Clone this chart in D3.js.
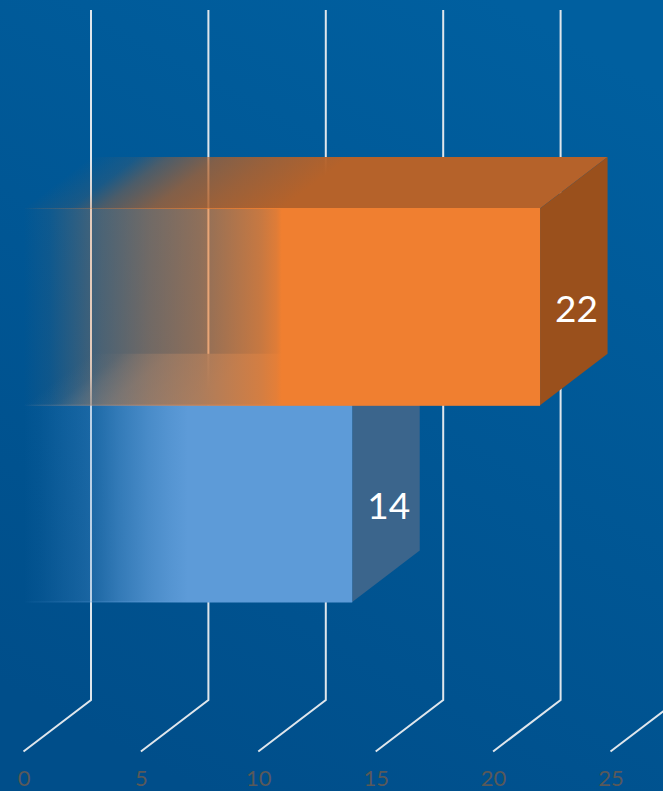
<!DOCTYPE html>
<html>
<head>
<meta charset="utf-8">
<script src="https://cdn.jsdelivr.net/npm/d3@7"></script>
<style>
    html, body { margin: 0; padding: 0; background: #00528f; overflow: hidden; }
    svg { display: block; }
    .tick text { font-family: Lato, sans-serif; font-size: 22px; fill: #595959; }
    .valueLabel { font-family: Lato, sans-serif; font-size: 37px; fill: #ffffff; text-anchor: middle; }
</style>
</head>
<body>
<svg id="chart" width="663" height="791"></svg>
<script>
// values
const seriesNames = ["Series 2", "Series 1"];
const seriesValues = [22, 14];
const axisTicks = [0, 5, 10, 15, 20, 25];

const width = 663, height = 791;
const svg = d3.select("#chart");
const defs = svg.append("defs");

// the 3d box offset, floor to back wall
const depthX = 67.5, depthY = 51.5;

const x = d3.scaleLinear().domain([0, 25]).range([23.5, 610.5]);
const y = d3.scaleBand().domain(seriesNames).range([208.5, 602]);

// Background
const bg = defs.append("linearGradient")
    .attr("id", "bgFill")
    .attr("x1", 0.75).attr("y1", 0).attr("x2", 0.3).attr("y2", 1);
bg.append("stop").attr("offset", 0).attr("stop-color", "#005f9f");
bg.append("stop").attr("offset", 1).attr("stop-color", "#004e8a");
svg.append("rect").attr("width", width).attr("height", height).attr("fill", "url(#bgFill)");

// Grid lines: along the floor then up the back wall
const floorY = 751.5, wallTop = 10;
svg.append("g").selectAll("path")
    .data(axisTicks)
    .enter()
    .append("path")
    .attr("d", d => `M${x(d)},${floorY}L${x(d) + depthX},${floorY - depthY}L${x(d) + depthX},${wallTop}`)
    .attr("fill", "none")
    .attr("stroke", "#dfe6ec")
    .attr("stroke-width", 2);

// Axis labels
svg.append("g")
    .attr("transform", "translate(0,766)")
    .call(d3.axisBottom(x).tickValues(axisTicks).tickSize(0).tickPadding(0))
    .call(g => g.select(".domain").remove())
    .selectAll("text").attr("dy", "0.9em");

// Fade in from the left, faces are opaque after half of the bar length.
// The skew keeps the fade parallel to the slanted edge on the top face.
function fadeGradient(id, color, stops, x0, x1, baseY, skewed) {
    const g = defs.append("linearGradient").attr("id", id)
        .attr("gradientUnits", "userSpaceOnUse")
        .attr("x1", x0).attr("y1", 0).attr("x2", x1).attr("y2", 0);
    if (skewed) {
        const angle = Math.atan(-depthX / depthY) * 180 / Math.PI;
        g.attr("gradientTransform", `translate(0,${baseY}) skewX(${angle}) translate(0,${-baseY})`);
    }
    stops.forEach(s => {
        g.append("stop").attr("offset", s[0]).attr("stop-color", color).attr("stop-opacity", s[1]);
    });
}

const topStops = [[0, 0], [0.09, 0.14], [0.15, 0.42], [0.25, 0.72], [0.35, 0.85], [0.5, 1], [1, 1]];
const edgeStops = [[0, 0], [0.03, 0.12], [0.2, 0.4], [0.5, 1], [1, 1]];

const colors = {
    "Series 1": {
        front: "#5d9bd8", top: "#48799d", side: "#3b658c",
        frontStops: [[0, 0], [0.05, 0.05], [0.11, 0.14], [0.2, 0.27], [0.29, 0.55], [0.38, 0.78], [0.445, 0.91], [0.5, 1], [1, 1]]
    },
    "Series 2": {
        front: "#f07f30", top: "#b5622a", side: "#9a501c",
        frontStops: [[0, 0], [0.05, 0.06], [0.1, 0.18], [0.15, 0.31], [0.245, 0.47], [0.34, 0.59], [0.46, 0.83], [0.49, 0.93], [0.5, 1], [1, 1]]
    }
};

// Bars, blue first so that the orange one sits over its top face
const bars = seriesNames.map((name, i) => ({ name: name, value: seriesValues[i] })).reverse();

bars.forEach((d, i) => {
    const c = colors[d.name];
    const x0 = x(0), x1 = x(d.value), y0 = y(d.name), y1 = y0 + y.bandwidth();
    const g = svg.append("g");

    fadeGradient("front" + i, c.front, c.frontStops, x0, x1, y0, false);
    fadeGradient("top" + i, c.top, topStops, x0, x1, y0, true);
    fadeGradient("edge" + i, c.front, edgeStops, x0, x1, y0, false);

    g.append("path")
        .attr("d", `M${x0},${y0}L${x0 + depthX},${y0 - depthY}L${x1 + depthX},${y0 - depthY}L${x1},${y0}Z`)
        .attr("fill", `url(#top${i})`);
    g.append("path")
        .attr("d", `M${x1},${y0}L${x1 + depthX},${y0 - depthY}L${x1 + depthX},${y1 - depthY}L${x1},${y1}Z`)
        .attr("fill", c.side);
    g.append("rect")
        .attr("x", x0).attr("y", y0)
        .attr("width", x1 - x0).attr("height", y.bandwidth())
        .attr("fill", `url(#front${i})`);

    // thin bright edge above and below the front face
    g.append("path")
        .attr("d", `M${x0},${y0}L${x1},${y0}M${x0},${y1}L${x1},${y1}`)
        .attr("fill", "none")
        .attr("stroke", `url(#edge${i})`)
        .attr("stroke-width", 1);

    g.append("text")
        .attr("class", "valueLabel")
        .attr("x", x1 + 36.5)
        .attr("y", y0 + y.bandwidth() / 2 + 15)
        .text(d.value);
});
</script>
</body>
</html>
